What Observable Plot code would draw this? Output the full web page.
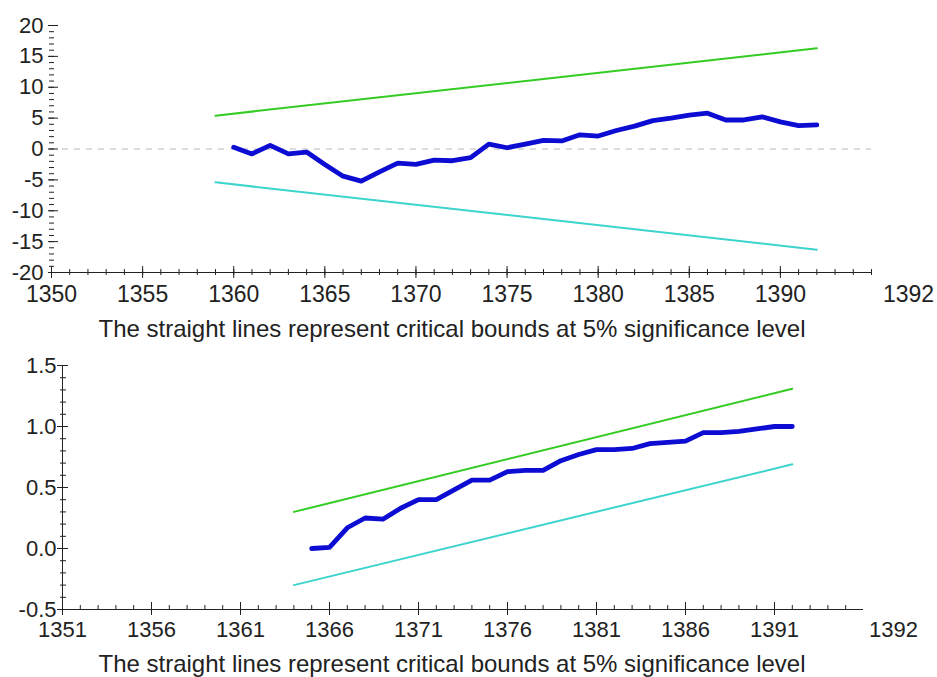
<!DOCTYPE html>
<html>
<head>
<meta charset="utf-8">
<script src="https://cdn.jsdelivr.net/npm/d3@7"></script>
<script src="https://cdn.jsdelivr.net/npm/@observablehq/plot@0.6"></script>
<style>
  html, body { margin: 0; padding: 0; background: #fff; }
  #wrap { position: relative; width: 937px; height: 677px; overflow: hidden; font-family: "Liberation Sans", Arial, Helvetica, sans-serif; color: #222; }
  .fig { position: absolute; left: 0; }
  .cap { position: absolute; left: 0; width: 904px; text-align: center; font-size: 24px; line-height: 24px; white-space: nowrap; }
</style>
</head>
<body>
<div id="wrap">
  <div class="fig" id="f1" style="top:0px"></div>
  <div class="cap" style="top:317px">The straight lines represent critical bounds at 5% significance level</div>
  <div class="fig" id="f2" style="top:340px"></div>
  <div class="cap" style="top:652px">The straight lines represent critical bounds at 5% significance level</div>
</div>
<script>
// ---------- Chart 1: CUSUM ----------
const cusumYears = [1360,1361,1362,1363,1364,1365,1366,1367,1368,1369,1370,1371,1372,1373,1374,1375,1376,1377,1378,1379,1380,1381,1382,1383,1384,1385,1386,1387,1388,1389,1390,1391,1392];
const cusumValues = [0.3,-0.8,0.6,-0.8,-0.5,-2.5,-4.4,-5.2,-3.7,-2.3,-2.5,-1.8,-1.9,-1.4,0.8,0.2,0.8,1.4,1.3,2.3,2.1,3.0,3.7,4.6,5.0,5.5,5.8,4.7,4.7,5.2,4.4,3.8,3.9];
const cusumBoundYears = [1359, 1392];
const cusumUpper = [5.4, 16.3];
const cusumLower = [-5.4, -16.3];
const xTicks1 = [1350,1355,1360,1365,1370,1375,1380,1385,1390];
const yTicks1 = [20,15,10,5,0,-5,-10,-15,-20];
const extraLabel = "1392";

// ---------- Chart 2: CUSUM of squares ----------
const sqYears = [1365,1366,1367,1368,1369,1370,1371,1372,1373,1374,1375,1376,1377,1378,1379,1380,1381,1382,1383,1384,1385,1386,1387,1388,1389,1390,1391,1392];
const sqValues = [0.00,0.01,0.17,0.25,0.24,0.33,0.40,0.40,0.48,0.56,0.56,0.63,0.64,0.64,0.72,0.77,0.81,0.81,0.82,0.86,0.87,0.88,0.95,0.95,0.96,0.98,1.00,1.00];
const sqBoundYears = [1364, 1392];
const sqUpper = [0.30, 1.31];
const sqLower = [-0.30, 0.69];
const xTicks2 = [1351,1356,1361,1366,1371,1376,1381,1386,1391];
const yTicks2 = [1.5,1.0,0.5,0.0,-0.5];

const FONT = "Liberation Sans, Arial, Helvetica, sans-serif";
const AX = "#222";
const BLUE = "#0c0cd2";
const GREEN = "#33cc22";
const CYAN = "#3cd4cc";

const cusumData = cusumYears.map((y, i) => ({year: y, v: cusumValues[i]}));
const cusumUp = cusumBoundYears.map((y, i) => ({year: y, v: cusumUpper[i]}));
const cusumLo = cusumBoundYears.map((y, i) => ({year: y, v: cusumLower[i]}));

const plot1 = Plot.plot({
  width: 937, height: 307,
  marginLeft: 51, marginRight: 66, marginTop: 25, marginBottom: 35,
  style: {fontFamily: FONT, fontSize: "23px", color: AX, background: "transparent", overflow: "visible"},
  x: {domain: [1350, 1395]},
  y: {domain: [-20, 20]},
  marks: [
    Plot.ruleY([0], {x1: 1350.6, x2: 1395, stroke: "#b8b8b8", strokeWidth: 1, strokeDasharray: "6,6"}),
    Plot.ruleY([-20], {stroke: AX, strokeWidth: 1}),
    Plot.ruleX(d3.range(1351, 1396), {y1: -20, y2: -20, insetTop: 3, insetBottom: 3, stroke: AX, strokeWidth: 1}),
    Plot.ruleX(xTicks1, {y1: -20, y2: -20, insetTop: 6, insetBottom: 6, stroke: AX, strokeWidth: 1}),
    Plot.axisX({ticks: xTicks1, tickSize: 0, tickPadding: 13, tickFormat: d => String(d), fontSize: 23, label: null}),
    Plot.text([extraLabel], {frameAnchor: "bottom-right", textAnchor: "middle", dx: 37, dy: 13, lineAnchor: "top", text: d => d, fontSize: 23, fill: AX}),
    Plot.ruleY(d3.range(-20, 21), {x1: 1350, x2: 1350, insetLeft: -2, insetRight: -3, stroke: AX, strokeWidth: 1}),
    Plot.ruleY(yTicks1, {x1: 1350, x2: 1350, insetLeft: -3, insetRight: -7, stroke: AX, strokeWidth: 1}),
    Plot.axisY({ticks: yTicks1, tickSize: 0, tickPadding: 8, tickFormat: d => String(d), fontSize: 22, label: null}),
    Plot.line(cusumUp, {x: "year", y: "v", stroke: GREEN, strokeWidth: 2}),
    Plot.line(cusumLo, {x: "year", y: "v", stroke: CYAN, strokeWidth: 2}),
    Plot.line(cusumData, {x: "year", y: "v", stroke: BLUE, strokeWidth: 4.8, strokeLinejoin: "round", strokeLinecap: "round"})
  ]
});
document.getElementById("f1").appendChild(plot1);

const sqData = sqYears.map((y, i) => ({year: y, v: sqValues[i]}));
const sqUp = sqBoundYears.map((y, i) => ({year: y, v: sqUpper[i]}));
const sqLo = sqBoundYears.map((y, i) => ({year: y, v: sqLower[i]}));

const plot2 = Plot.plot({
  width: 937, height: 305,
  marginLeft: 62, marginRight: 74, marginTop: 25, marginBottom: 36,
  style: {fontFamily: FONT, fontSize: "22px", color: AX, background: "transparent", overflow: "visible"},
  x: {domain: [1351, 1396]},
  y: {domain: [-0.5, 1.5]},
  marks: [
    Plot.ruleY([-0.5], {stroke: AX, strokeWidth: 1}),
    Plot.ruleX([1351], {stroke: AX, strokeWidth: 1}),
    Plot.ruleX(d3.range(1352, 1396), {y1: -0.5, y2: -0.5, insetTop: 1, insetBottom: 4, stroke: AX, strokeWidth: 1}),
    Plot.ruleX(xTicks2, {y1: -0.5, y2: -0.5, insetTop: 6, insetBottom: 7, stroke: AX, strokeWidth: 1}),
    Plot.axisX({ticks: xTicks2, tickSize: 0, tickPadding: 12, tickFormat: d => String(d), fontSize: 22, label: null}),
    Plot.text([extraLabel], {frameAnchor: "bottom-right", textAnchor: "middle", dx: 30, dy: 12, lineAnchor: "top", text: d => d, fontSize: 22, fill: AX}),
    Plot.ruleY(d3.range(-4, 15).map(d => d / 10), {x1: 1351, x2: 1351, insetLeft: -2, insetRight: -4, stroke: AX, strokeWidth: 1}),
    Plot.ruleY(yTicks2, {x1: 1351, x2: 1351, insetLeft: -5, insetRight: -6, stroke: AX, strokeWidth: 1}),
    Plot.axisY({ticks: yTicks2, tickSize: 0, tickPadding: 6, tickFormat: d => d.toFixed(1), fontSize: 22, label: null}),
    Plot.line(sqUp, {x: "year", y: "v", stroke: GREEN, strokeWidth: 2}),
    Plot.line(sqLo, {x: "year", y: "v", stroke: CYAN, strokeWidth: 2}),
    Plot.line(sqData, {x: "year", y: "v", stroke: BLUE, strokeWidth: 4.8, strokeLinejoin: "round", strokeLinecap: "round"})
  ]
});
document.getElementById("f2").appendChild(plot2);
</script>
</body>
</html>
